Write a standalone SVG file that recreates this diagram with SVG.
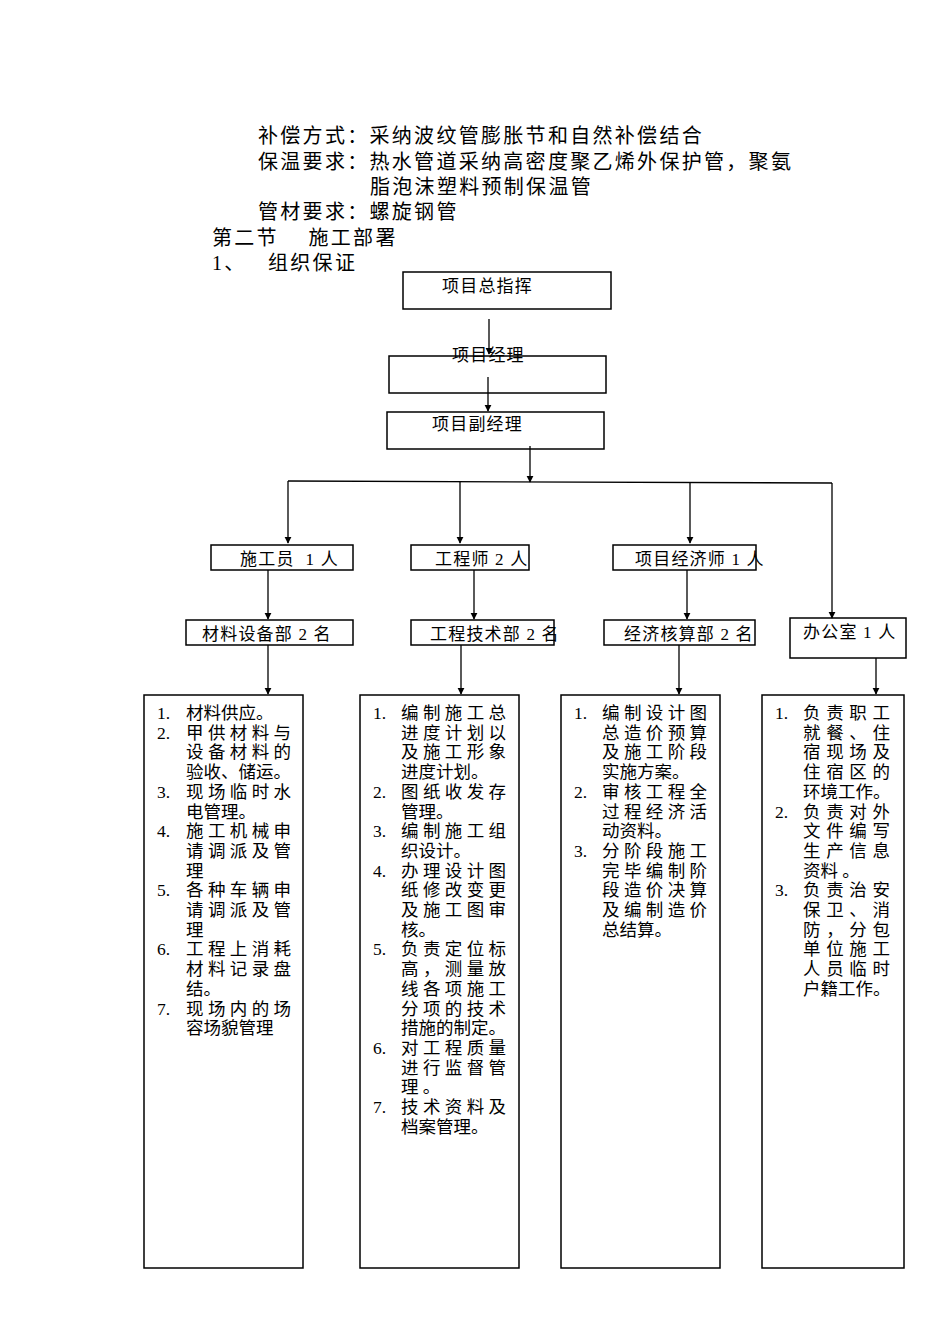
<svg xmlns="http://www.w3.org/2000/svg" width="950" height="1344" viewBox="0 0 950 1344">
<style>
text{font-family:"Liberation Serif","Noto Sans CJK SC",serif;fill:#000}
.h{font-size:20px;letter-spacing:2.3px}
.n{font-size:17px;letter-spacing:1.2px}
.l{font-size:17.5px}
rect{fill:none;stroke:#000;stroke-width:1.5}
.c line,.c polyline{stroke:#000;stroke-width:1.3;fill:none}
</style>
<defs><marker id="a" viewBox="0 0 10 10" refX="9" refY="5" markerWidth="7" markerHeight="9" orient="auto" markerUnits="userSpaceOnUse"><path d="M0,0L10,5L0,10z" fill="#000"/></marker></defs>
<rect x="0" y="0" width="950" height="1344" fill="#fff" style="fill:#fff;stroke:none"/>
<g id="header" class="h">
<text x="258" y="143">补偿方式：采纳波纹管膨胀节和自然补偿结合</text>
<text x="258" y="169">保温要求：热水管道采纳高密度聚乙烯外保护管，聚氨</text>
<text x="370" y="194">脂泡沫塑料预制保温管</text>
<text x="258" y="219">管材要求：螺旋钢管</text>
<text x="212" y="245">第二节　 施工部署</text>
<text x="212" y="270">1、</text><text x="268" y="270">组织保证</text>
</g>
<g class="c" id="connectors">
<line x1="489" y1="319" x2="489" y2="354" marker-end="url(#a)"/>
<line x1="488" y1="377" x2="488" y2="411" marker-end="url(#a)"/>
<line x1="530" y1="446" x2="530" y2="482" marker-end="url(#a)"/>
<polyline points="288,481 832,483"/>
<line x1="288" y1="481" x2="288" y2="543" marker-end="url(#a)"/>
<line x1="460" y1="482" x2="460" y2="543" marker-end="url(#a)"/>
<line x1="690" y1="482" x2="690" y2="543" marker-end="url(#a)"/>
<line x1="832" y1="483" x2="832" y2="618" marker-end="url(#a)"/>
<line x1="268" y1="570" x2="268" y2="619" marker-end="url(#a)"/>
<line x1="474" y1="570" x2="474" y2="619" marker-end="url(#a)"/>
<line x1="687" y1="570" x2="687" y2="619" marker-end="url(#a)"/>
<line x1="268" y1="645" x2="268" y2="694" marker-end="url(#a)"/>
<line x1="461" y1="645" x2="461" y2="694" marker-end="url(#a)"/>
<line x1="679" y1="645" x2="679" y2="694" marker-end="url(#a)"/>
<line x1="876" y1="658" x2="876" y2="694" marker-end="url(#a)"/>
</g>
<g id="n1"><rect x="403" y="272" width="208" height="37"/><text class="n" x="442" y="292">项目总指挥</text></g>
<g id="n2"><rect x="389" y="356" width="217" height="37"/><text class="n" x="452" y="361">项目经理</text></g>
<g id="n3"><rect x="387" y="412" width="217" height="37"/><text class="n" x="432" y="430">项目副经理</text></g>
<g id="n4"><rect x="211" y="545" width="142" height="25"/><text class="n" x="240" y="565" xml:space="preserve">施工员  1 人</text></g>
<g id="n5"><rect x="411" y="545" width="118" height="25"/><text class="n" x="435" y="565" xml:space="preserve">工程师 2 人</text></g>
<g id="n6"><rect x="613" y="545" width="143" height="25"/><text class="n" x="635" y="565" xml:space="preserve">项目经济师 1 人</text></g>
<g id="n7"><rect x="186" y="620" width="167" height="25"/><text class="n" x="202" y="640" xml:space="preserve">材料设备部 2 名</text></g>
<g id="n8"><rect x="411" y="620" width="143" height="25"/><text class="n" x="430" y="640" xml:space="preserve">工程技术部 2 名</text></g>
<g id="n9"><rect x="604" y="620" width="151" height="25"/><text class="n" x="624" y="640" xml:space="preserve">经济核算部 2 名</text></g>
<g id="n10"><rect x="790" y="618" width="116" height="40"/><text class="n" x="803" y="638" xml:space="preserve">办公室 1 人</text></g>
<g id="b1" class="l"><rect x="144" y="695" width="159" height="573"/>
<text x="157" y="719">1.</text><text x="186" y="719">材料供应。</text>
<text x="157" y="739">2.</text><text x="186" y="739" textLength="105">甲供材料与</text><text x="186" y="758" textLength="105">设备材料的</text><text x="186" y="778">验收、储运。</text>
<text x="157" y="798">3.</text><text x="186" y="798" textLength="105">现场临时水</text><text x="186" y="818">电管理。</text>
<text x="157" y="837">4.</text><text x="186" y="837" textLength="105">施工机械申</text><text x="186" y="857" textLength="105">请调派及管</text><text x="186" y="877">理</text>
<text x="157" y="896">5.</text><text x="186" y="896" textLength="105">各种车辆申</text><text x="186" y="916" textLength="105">请调派及管</text><text x="186" y="936">理</text>
<text x="157" y="955">6.</text><text x="186" y="955" textLength="105">工程上消耗</text><text x="186" y="975" textLength="105">材料记录盘</text><text x="186" y="995">结。</text>
<text x="157" y="1015">7.</text><text x="186" y="1015" textLength="105">现场内的场</text><text x="186" y="1034">容场貌管理</text>
</g>
<g id="b2" class="l"><rect x="360" y="695" width="159" height="573"/>
<text x="373" y="719">1.</text><text x="401" y="719" textLength="105">编制施工总</text><text x="401" y="739" textLength="105">进度计划以</text><text x="401" y="758" textLength="105">及施工形象</text><text x="401" y="778">进度计划。</text>
<text x="373" y="798">2.</text><text x="401" y="798" textLength="105">图纸收发存</text><text x="401" y="818">管理。</text>
<text x="373" y="837">3.</text><text x="401" y="837" textLength="105">编制施工组</text><text x="401" y="857">织设计。</text>
<text x="373" y="877">4.</text><text x="401" y="877" textLength="105">办理设计图</text><text x="401" y="896" textLength="105">纸修改变更</text><text x="401" y="916" textLength="105">及施工图审</text><text x="401" y="936">核。</text>
<text x="373" y="955">5.</text><text x="401" y="955" textLength="105">负责定位标</text><text x="401" y="975" textLength="105">高，测量放</text><text x="401" y="995" textLength="105">线各项施工</text><text x="401" y="1015" textLength="105">分项的技术</text><text x="401" y="1034">措施的制定。</text>
<text x="373" y="1054">6.</text><text x="401" y="1054" textLength="105">对工程质量</text><text x="401" y="1074" textLength="105">进行监督管</text><text x="401" y="1093">理 。</text>
<text x="373" y="1113">7.</text><text x="401" y="1113" textLength="105">技术资料及</text><text x="401" y="1133">档案管理。</text>
</g>
<g id="b3" class="l"><rect x="561" y="695" width="159" height="573"/>
<text x="574" y="719">1.</text><text x="602" y="719" textLength="105">编制设计图</text><text x="602" y="739" textLength="105">总造价预算</text><text x="602" y="758" textLength="105">及施工阶段</text><text x="602" y="778">实施方案。</text>
<text x="574" y="798">2.</text><text x="602" y="798" textLength="105">审核工程全</text><text x="602" y="818" textLength="105">过程经济活</text><text x="602" y="837">动资料。</text>
<text x="574" y="857">3.</text><text x="602" y="857" textLength="105">分阶段施工</text><text x="602" y="877" textLength="105">完毕编制阶</text><text x="602" y="896" textLength="105">段造价决算</text><text x="602" y="916" textLength="105">及编制造价</text><text x="602" y="936">总结算。</text>
</g>
<g id="b4" class="l"><rect x="762" y="695" width="142" height="573"/>
<text x="775" y="719">1.</text><text x="803" y="719" textLength="87">负责职工</text><text x="803" y="739" textLength="87">就餐、住</text><text x="803" y="758" textLength="87">宿现场及</text><text x="803" y="778" textLength="87">住宿区的</text><text x="803" y="798">环境工作。</text>
<text x="775" y="818">2.</text><text x="803" y="818" textLength="87">负责对外</text><text x="803" y="837" textLength="87">文件编写</text><text x="803" y="857" textLength="87">生产信息</text><text x="803" y="877">资料 。</text>
<text x="775" y="896">3.</text><text x="803" y="896" textLength="87">负责治安</text><text x="803" y="916" textLength="87">保卫、消</text><text x="803" y="936" textLength="87">防，分包</text><text x="803" y="955" textLength="87">单位施工</text><text x="803" y="975" textLength="87">人员临时</text><text x="803" y="995">户籍工作。</text>
</g>
</svg>
